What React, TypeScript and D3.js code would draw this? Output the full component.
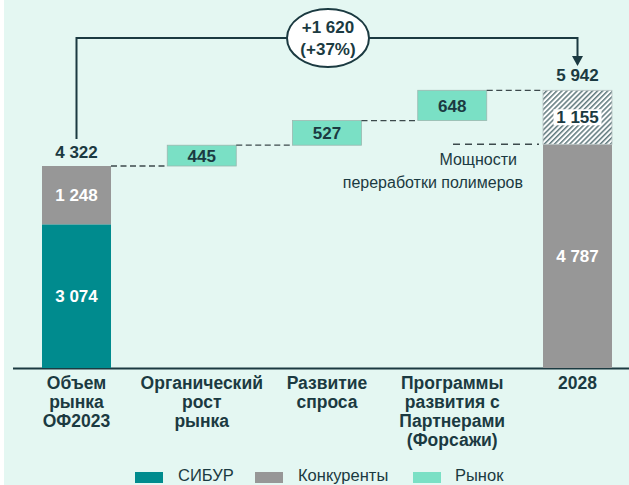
import React from "react";
import * as d3 from "d3";

const categories = ["Объем рынка ОФ2023", "Органический рост рынка", "Развитие спроса", "Программы развития с Партнерами (Форсажи)", "2028"];
const categoryLines = [
  ["Объем", "рынка", "ОФ2023"],
  ["Органический", "рост", "рынка"],
  ["Развитие", "спроса"],
  ["Программы", "развития с", "Партнерами", "(Форсажи)"],
  ["2028"],
];
const sibur2023 = 3074;
const competitors2023 = 1248;
const marketIncrements = [445, 527, 648];
const competitors2028 = 4787;
const growthLabel = ["+1 620", "(+37%)"];
const capacityNote = ["Мощности", "переработки полимеров"];
const legendItems = ["СИБУР", "Конкуренты", "Рынок"];

const C = {
  bg: "#E4F7F2",
  sibur: "#008B8E",
  comp: "#979797",
  market: "#7AE0C5",
  text: "#1B3A41",
  line: "#1B3A41",
  dash: "#3C4A4C",
};

const fmt = d3.formatLocale({ decimal: ",", thousands: " ", grouping: [3], currency: ["", ""] }).format(",d");
const FONT = "'Liberation Sans', Arial, sans-serif";

export default function App() {
  const W = 629, H = 485;
  const baseY = 368;
  const start = sibur2023 + competitors2023;
  const end = start + d3.sum(marketIncrements);
  const hatch = end - competitors2028;
  const y = d3.scaleLinear().domain([0, end]).range([baseY, 90.3]);
  const x = d3.scalePoint<string>().domain(categories).range([76.5, 577.5]);
  const bw = 69;
  const cx = (i: number) => x(categories[i]) as number;

  const steps = marketIncrements.map((v, i) => {
    const from = start + d3.sum(marketIncrements.slice(0, i));
    return { v, from, to: from + v, i: i + 1 };
  });

  const lastX = cx(4);
  const firstX = cx(0);
  const topY = 38;
  const ellX = cx(2);

  return (
    <svg width={W} height={H} style={{ position: "absolute", left: 0, top: 0, display: "block" }} fontFamily={FONT}>
      <defs>
        <pattern id="hatch" patternUnits="userSpaceOnUse" width="3.6" height="3.6" patternTransform="rotate(45)">
          <rect width="3.6" height="3.6" fill="#ffffff" />
          <line x1="0.8" y1="0" x2="0.8" y2="3.6" stroke="#24464c" strokeWidth="1.1" />
        </pattern>
      </defs>
      <rect x={4} y={0} width={W - 4} height={H} fill={C.bg} />

      <line x1={13} x2={W} y1={baseY + 0.5} y2={baseY + 0.5} stroke={C.line} strokeWidth={2} />

      <rect x={cx(0) - bw / 2} width={bw} y={y(sibur2023)} height={baseY - y(sibur2023)} fill={C.sibur} />
      <rect x={cx(0) - bw / 2} width={bw} y={y(start)} height={y(sibur2023) - y(start)} fill={C.comp} />
      <text x={cx(0)} y={(y(0) + y(sibur2023)) / 2} dy="0.36em" textAnchor="middle" fill="#fff" fontWeight="bold" fontSize={17}>{fmt(sibur2023)}</text>
      <text x={cx(0)} y={(y(sibur2023) + y(start)) / 2} dy="0.36em" textAnchor="middle" fill="#fff" fontWeight="bold" fontSize={17}>{fmt(competitors2023)}</text>
      <text x={cx(0)} y={y(start) - 14} dy="0.36em" textAnchor="middle" fill={C.text} fontWeight="bold" fontSize={17}>{fmt(start)}</text>

      {steps.map((s) => (
        <g key={s.i}>
          <line x1={cx(s.i - 1) + bw / 2} x2={cx(s.i) - bw / 2} y1={y(s.from)} y2={y(s.from)} stroke={C.dash} strokeWidth={1.3} strokeDasharray="6,3.5" />
          <rect x={cx(s.i) - bw / 2} width={bw} y={y(s.to)} height={y(s.from) - y(s.to)} fill={C.market} stroke="#9bb8b0" strokeWidth={0.8} />
          <text x={cx(s.i)} y={(y(s.from) + y(s.to)) / 2} dy="0.36em" textAnchor="middle" fill={C.text} fontWeight="bold" fontSize={17}>{fmt(s.v)}</text>
        </g>
      ))}
      <line x1={cx(3) + bw / 2} x2={cx(4) - bw / 2} y1={y(end)} y2={y(end)} stroke={C.dash} strokeWidth={1.3} strokeDasharray="6,3.5" />

      <rect x={cx(4) - bw / 2} width={bw} y={y(competitors2028)} height={baseY - y(competitors2028)} fill={C.comp} />
      <rect x={cx(4) - bw / 2} width={bw} y={y(end)} height={y(competitors2028) - y(end)} fill="url(#hatch)" stroke="#b5c0c0" strokeWidth={0.8} />
      <rect x={cx(4) - 24} width={48} y={(y(end) + y(competitors2028)) / 2 - 8} height={16} fill="#fff" />
      <text x={cx(4)} y={(y(end) + y(competitors2028)) / 2} dy="0.36em" textAnchor="middle" fill={C.text} fontWeight="bold" fontSize={17}>{fmt(hatch)}</text>
      <text x={cx(4)} y={(y(0) + y(competitors2028)) / 2} dy="0.36em" textAnchor="middle" fill="#fff" fontWeight="bold" fontSize={17}>{fmt(competitors2028)}</text>
      <text x={cx(4)} y={y(end) - 15} dy="0.36em" textAnchor="middle" fill={C.text} fontWeight="bold" fontSize={17}>{fmt(end)}</text>

      <line x1={453} x2={cx(4) - bw / 2 - 4} y1={y(competitors2028)} y2={y(competitors2028)} stroke={C.dash} strokeWidth={1.6} strokeDasharray="7,5" />
      <text x={517} y={159} dy="0.36em" textAnchor="end" fill={C.text} fontSize={16}>{capacityNote[0]}</text>
      <text x={523} y={182} dy="0.36em" textAnchor="end" fill={C.text} fontSize={16}>{capacityNote[1]}</text>

      <path d={`M${firstX},${y(start) - 27} V${topY} H${lastX} V${60}`} fill="none" stroke={C.line} strokeWidth={2} />
      <path d={`M${lastX - 5.5},${56} L${lastX + 5.5},${56} L${lastX},${66} Z`} fill={C.line} />
      <ellipse cx={ellX + 1} cy={topY} rx={41} ry={29} fill="#fff" stroke={C.line} strokeWidth={2} />
      <text x={ellX + 1} y={27} dy="0.36em" textAnchor="middle" fill={C.text} fontWeight="bold" fontSize={17}>{growthLabel[0]}</text>
      <text x={ellX + 1} y={49} dy="0.36em" textAnchor="middle" fill={C.text} fontWeight="bold" fontSize={17}>{growthLabel[1]}</text>

      {categoryLines.map((lines, i) => (
        <text key={i} x={cx(i)} y={383} textAnchor="middle" fill={C.text} fontWeight="bold" fontSize={17.5}>
          {lines.map((l, j) => (
            <tspan key={j} x={cx(i)} y={383 + j * 19} dy="0.36em">{l}</tspan>
          ))}
        </text>
      ))}

      {[{ c: C.sibur, x: 135, tx: 178 }, { c: C.comp, x: 255, tx: 298 }, { c: C.market, x: 413, tx: 455 }].map((l, i) => (
        <g key={i}>
          <rect x={l.x} y={472} width={28} height={11} fill={l.c} />
          <text x={l.tx} y={475} dy="0.36em" fill={C.text} fontSize={16.5}>{legendItems[i]}</text>
        </g>
      ))}
    </svg>
  );
}
